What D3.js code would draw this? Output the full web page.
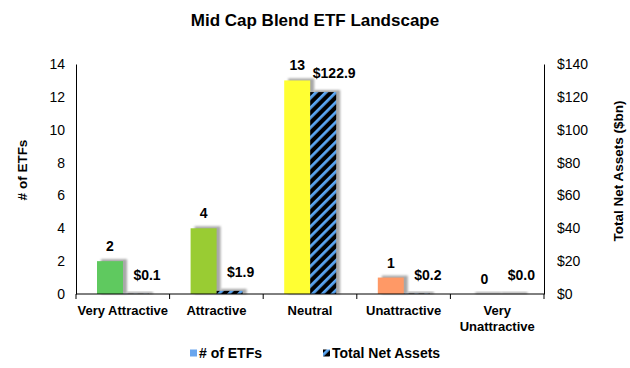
<!DOCTYPE html>
<html>
<head>
<meta charset="utf-8">
<script src="https://cdn.jsdelivr.net/npm/d3@7/dist/d3.min.js"></script>
<style>
  body { margin: 0; background: #fff; }
  text { font-family: "Liberation Sans", Arial, sans-serif; fill: #000; }
</style>
</head>
<body>
<div id="chart"></div>
<script>
// data
const categories = ["Very Attractive", "Attractive", "Neutral", "Unattractive", "Very Unattractive"];
const etfCounts = [2, 4, 13, 1, 0];
const netAssets = [0.1, 1.9, 122.9, 0.2, 0.0];
const barColors = ["#5fc95f", "#99cc33", "#ffff33", "#ff9966", "#ff4d4d"];
const leftTicks = [0, 2, 4, 6, 8, 10, 12, 14];
const rightTicks = [0, 20, 40, 60, 80, 100, 120, 140];

const W = 630, H = 368;
const margin = { top: 64, bottom: 74, left: 76, right: 86 };
const plotW = W - margin.left - margin.right;
const plotH = H - margin.top - margin.bottom;

const svg = d3.select("#chart").append("svg")
    .attr("width", W).attr("height", H);

const defs = svg.append("defs");
const pat = defs.append("pattern")
    .attr("id", "hatch")
    .attr("patternUnits", "userSpaceOnUse")
    .attr("width", 7).attr("height", 7)
    .attr("patternTransform", "rotate(45)");
pat.append("rect").attr("width", 7).attr("height", 7).attr("fill", "#000");
pat.append("rect").attr("x", 0).attr("width", 2.8).attr("height", 7).attr("fill", "#5aa5f2");

defs.append("filter").attr("id", "soft")
    .attr("x", "-20%").attr("y", "-20%").attr("width", "140%").attr("height", "140%")
    .append("feGaussianBlur").attr("stdDeviation", 0.9);

// title
svg.append("text")
    .attr("x", 315).attr("y", 26)
    .attr("text-anchor", "middle")
    .style("font-size", "17px").style("font-weight", "bold")
    .text("Mid Cap Blend ETF Landscape");

const g = svg.append("g").attr("transform", `translate(${margin.left},${margin.top})`);

// scales
const x = d3.scaleBand().domain(categories).range([0, plotW]);
const xs = d3.scaleBand().domain(["count", "assets"]).range([21, 73]);
const yL = d3.scaleLinear().domain([0, 14]).range([plotH, 0]);
const yR = d3.scaleLinear().domain([0, 140]).range([plotH, 0]);

// axes
const leftAxis = d3.axisLeft(yL).tickValues(leftTicks).tickSize(0).tickPadding(11);
const rightAxis = d3.axisRight(yR).tickValues(rightTicks).tickSize(0).tickPadding(13)
    .tickFormat(d => "$" + d);

const gl = g.append("g").call(leftAxis);
const gr = g.append("g").attr("transform", `translate(${plotW},0)`).call(rightAxis);
[gl, gr].forEach(a => {
    a.select(".domain").attr("stroke", "#000");
    a.selectAll("text").style("font-size", "14px").style("font-family", "Liberation Sans, Arial, sans-serif");
});

// bars with soft shadows
const cg = g.selectAll(".cat").data(categories).enter().append("g")
    .attr("transform", d => `translate(${x(d)},0)`);

function shadow(sel, xpos, yTop, w) {
    sel.append("rect")
        .attr("x", xpos + 4).attr("y", yTop - 2)
        .attr("width", w).attr("height", Math.max(plotH - yTop + 2, 2))
        .attr("fill", "#a8a8a8")
        .attr("filter", "url(#soft)");
}

cg.each(function(d, i) {
    const s = d3.select(this);
    shadow(s, xs("count"), yL(etfCounts[i]), xs.bandwidth());
    shadow(s, xs("assets"), yR(netAssets[i]), xs.bandwidth());
});

cg.append("rect")
    .attr("x", xs("count"))
    .attr("y", (d, i) => yL(etfCounts[i]))
    .attr("width", xs.bandwidth())
    .attr("height", (d, i) => plotH - yL(etfCounts[i]))
    .attr("fill", (d, i) => barColors[i]);

cg.append("rect")
    .attr("x", xs("assets"))
    .attr("y", (d, i) => yR(netAssets[i]))
    .attr("width", xs.bandwidth())
    .attr("height", (d, i) => plotH - yR(netAssets[i]))
    .attr("fill", "url(#hatch)");

// data labels
cg.append("text")
    .attr("x", xs("count") + xs.bandwidth() / 2)
    .attr("y", (d, i) => yL(etfCounts[i]) - 10)
    .attr("text-anchor", "middle")
    .style("font-size", "14px").style("font-weight", "bold")
    .text((d, i) => etfCounts[i]);

cg.append("text")
    .attr("x", xs("assets") + xs.bandwidth() / 2 + 11)
    .attr("y", (d, i) => yR(netAssets[i]) - 14)
    .attr("text-anchor", "middle")
    .style("font-size", "14px").style("font-weight", "bold")
    .text((d, i) => "$" + netAssets[i].toFixed(1));

// x axis baseline + category ticks
g.append("line")
    .attr("x1", 0).attr("x2", plotW)
    .attr("y1", plotH).attr("y2", plotH)
    .attr("stroke", "#000");
g.selectAll(".xt").data(d3.range(categories.length + 1)).enter().append("line")
    .attr("x1", i => i * x.step()).attr("x2", i => i * x.step())
    .attr("y1", plotH).attr("y2", plotH + 5)
    .attr("stroke", "#000");

// category labels
const lbl = g.selectAll(".cl").data(categories).enter().append("text")
    .attr("x", d => x(d) + x.bandwidth() / 2)
    .attr("y", plotH + 21)
    .attr("text-anchor", "middle")
    .style("font-size", "13px").style("font-weight", "bold");
lbl.each(function(d) {
    const t = d3.select(this);
    const words = d === "Very Unattractive" ? ["Very", "Unattractive"] : [d];
    words.forEach((w, k) => {
        t.append("tspan").attr("x", x(d) + x.bandwidth() / 2)
            .attr("dy", k === 0 ? 0 : 16).text(w);
    });
});

// axis titles
svg.append("text")
    .attr("transform", "translate(27,170) rotate(-90)")
    .attr("text-anchor", "middle")
    .style("font-size", "13.5px").style("font-weight", "bold")
    .text("# of ETFs");
svg.append("text")
    .attr("transform", "translate(623,171) rotate(-90)")
    .attr("text-anchor", "middle")
    .style("font-size", "13.5px").style("font-weight", "bold")
    .text("Total Net Assets ($bn)");

// legend
const legend = [
    { label: "# of ETFs", fill: "#6aa6ee", x: 190 },
    { label: "Total Net Assets", fill: "url(#hatch)", x: 323 }
];
const lg = svg.selectAll(".lg").data(legend).enter().append("g")
    .attr("transform", d => `translate(${d.x},353)`);
lg.append("rect").attr("x", 0).attr("y", -3.5).attr("width", 7).attr("height", 7)
    .attr("fill", d => d.fill);
lg.append("text").attr("x", 9).attr("y", 5)
    .style("font-size", "14px").style("font-weight", "bold")
    .text(d => d.label);
</script>
</body>
</html>
